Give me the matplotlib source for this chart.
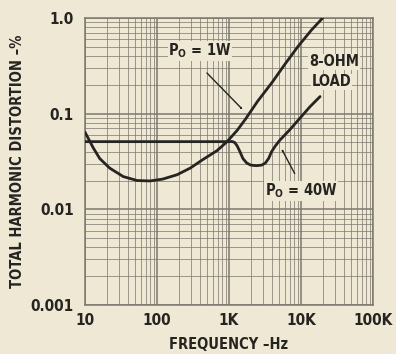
import matplotlib
matplotlib.use("Agg")
import matplotlib.pyplot as plt
from matplotlib.ticker import FixedLocator, LogLocator, NullFormatter

# ---- data ----
freq_1w = [10, 13, 16, 22, 34, 53, 80, 120, 190, 290, 430, 680, 940, 1300,
           1700, 2500, 4000, 6000, 9000, 14000, 20000]
thd_1w = [0.064, 0.044, 0.034, 0.027, 0.022, 0.020, 0.0198, 0.0207, 0.023,
          0.027, 0.033, 0.041, 0.051, 0.067, 0.088, 0.135, 0.214, 0.33, 0.50,
          0.75, 1.0]

freq_40w = [10, 100, 500, 1000, 1100, 1200, 1300, 1420, 1560, 1760, 2000,
            2400, 2850, 3200, 3550, 3900, 4400, 5100, 7000, 9700, 13300, 18400]
thd_40w = [0.051, 0.051, 0.051, 0.051, 0.0512, 0.050, 0.046, 0.040, 0.034,
           0.0305, 0.0290, 0.0286, 0.0290, 0.0305, 0.0340, 0.040, 0.046, 0.053,
           0.068, 0.090, 0.118, 0.151]

x_ticks = [10, 100, 1000, 10000, 100000]
x_tick_labels = ["10", "100", "1K", "10K", "100K"]
y_ticks = [0.001, 0.01, 0.1, 1.0]
y_tick_labels = ["0.001", "0.01", "0.1", "1.0"]

bg = "#eee8d5"
ink = "#262420"
gridc = "#7d796e"

font = dict(family="DejaVu Sans", stretch="condensed", weight="bold")

fig = plt.figure(figsize=(3.96, 3.54), dpi=100, facecolor=bg)
ax = fig.add_axes([85/396, 49/354, 288/396, 287/354])
ax.set_facecolor(bg)
ax.set_xscale("log")
ax.set_yscale("log")
ax.set_xlim(10, 100000)
ax.set_ylim(0.001, 1.0)

ax.xaxis.set_major_locator(FixedLocator(x_ticks))
ax.yaxis.set_major_locator(FixedLocator(y_ticks))
ax.xaxis.set_minor_locator(LogLocator(base=10, subs=range(2, 10)))
ax.yaxis.set_minor_locator(LogLocator(base=10, subs=range(2, 10)))
ax.xaxis.set_minor_formatter(NullFormatter())
ax.yaxis.set_minor_formatter(NullFormatter())
ax.set_xticklabels(x_tick_labels, fontsize=11, color=ink, **font)
ax.set_yticklabels(y_tick_labels, fontsize=11, color=ink, **font)
ax.tick_params(which="both", length=0)
ax.tick_params(axis="x", pad=6)
ax.tick_params(axis="y", pad=8)

ax.grid(True, which="major", color=gridc, lw=1.1)
ax.grid(True, which="minor", color=gridc, lw=0.7, alpha=0.75)
for s in ax.spines.values():
    s.set_color(gridc)
    s.set_linewidth(1.1)

ax.plot(freq_1w, thd_1w, color=ink, lw=2.0, solid_capstyle="round",
        solid_joinstyle="round", zorder=5)
ax.plot(freq_40w, thd_40w, color=ink, lw=2.0, solid_capstyle="round",
        solid_joinstyle="round", zorder=5)

ax.set_xlabel("FREQUENCY \u2013Hz", fontsize=10.5, color=ink, labelpad=6, **font)
ax.set_ylabel("TOTAL HARMONIC DISTORTION \u2013%", fontsize=10.5, color=ink,
              labelpad=4, **font)

def px(x, y):
    return (x / 396, 1 - y / 354)

tb = dict(facecolor=bg, edgecolor="none", pad=0.5)
fig.text(*px(200, 51), r"P$_\mathregular{O}$ = 1W", fontsize=10.5, color=ink,
         ha="center", va="center", zorder=10, bbox=tb, **font)
fig.text(*px(301, 191), r"P$_\mathregular{O}$ = 40W", fontsize=10.5, color=ink,
         ha="center", va="center", zorder=10, bbox=tb, **font)
fig.text(*px(309, 62), "8-OHM", fontsize=10.5, color=ink, ha="left",
         va="center", zorder=10, bbox=tb, **font)
fig.text(*px(312, 82), "LOAD", fontsize=10.5, color=ink, ha="left",
         va="center", zorder=10, bbox=tb, **font)

arrow = dict(arrowstyle="-|>,head_length=0.7,head_width=0.22", color=ink, lw=1.0)
fig.add_artist(matplotlib.patches.FancyArrowPatch(
    px(205, 71), px(245, 112), transform=fig.transFigure,
    **arrow, zorder=11))
fig.add_artist(matplotlib.patches.FancyArrowPatch(
    px(296, 176), px(280, 146), transform=fig.transFigure,
    **arrow, zorder=11))

fig.savefig("out.png", dpi=100, facecolor=bg)
